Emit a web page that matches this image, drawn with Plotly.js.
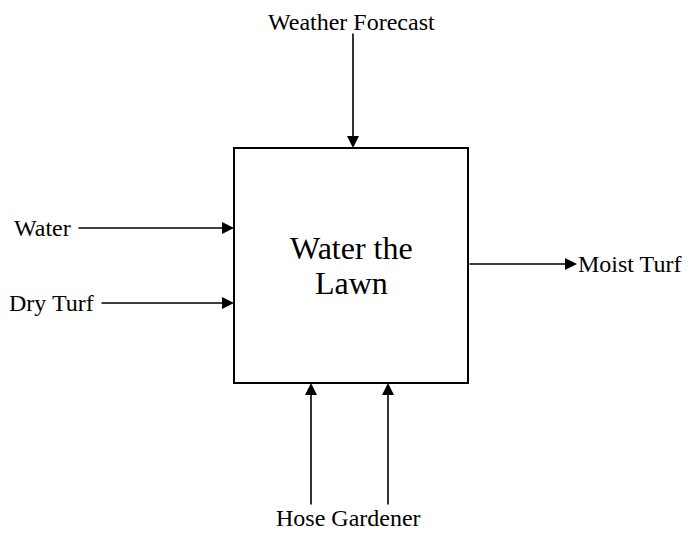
<!DOCTYPE html>
<html>
<head>
<meta charset="utf-8">
<script src="https://cdn.plot.ly/plotly-3.0.1.min.js"></script>
<style>html,body{margin:0;padding:0;background:#fff;}#chart{width:692px;height:534px;}</style>
</head>
<body>
<div id="chart"></div>
<script>
// Diagram content (IDEF0 activity box)
const activity = ["Water the", "Lawn"];
const inputs = ["Water", "Dry Turf"];
const controls = ["Weather Forecast"];
const outputs = ["Moist Turf"];
const mechanisms = ["Hose Gardener"];

// Geometry (pixel-space layout)
const box = {x0: 234, x1: 468, y0: 148, y1: 383};
const inputY = [228, 303];
const inputTailX = [77, 100];
const controlX = [353];
const controlTailY = 32;
const outputY = [264];
const outputHeadX = 577;
const mechX = [311, 388];
const mechTailY = 506;
const activityLineY = [248, 283];

const font = {family: "Liberation Serif, DejaVu Serif, serif", size: 24, color: "#000"};
const ann = [];
const arrowStyle = {showarrow: true, arrowhead: 2, arrowsize: 1.5, arrowwidth: 1.6, arrowcolor: "#000", standoff: 0, startstandoff: 0, axref: "x", ayref: "y", xref: "x", yref: "y", text: ""};

inputs.forEach((t, i) => {
  ann.push({...arrowStyle, x: box.x0, y: inputY[i], ax: inputTailX[i], ay: inputY[i]});
  ann.push({x: inputTailX[i] - 5, y: inputY[i], text: t, showarrow: false, xanchor: "right", yanchor: "middle", borderpad: 0, font});
});
controls.forEach((t, i) => {
  ann.push({...arrowStyle, x: controlX[i], y: box.y0, ax: controlX[i], ay: controlTailY});
  ann.push({x: controlX[i] - 2, y: controlTailY - 10, text: t, showarrow: false, xanchor: "center", yanchor: "middle", borderpad: 0, font});
});
outputs.forEach((t, i) => {
  ann.push({...arrowStyle, x: outputHeadX, y: outputY[i], ax: box.x1, ay: outputY[i]});
  ann.push({x: outputHeadX, y: outputY[i], text: t, showarrow: false, xanchor: "left", yanchor: "middle", borderpad: 0, font});
});
mechX.forEach((mx) => {
  ann.push({...arrowStyle, x: mx, y: box.y1, ax: mx, ay: mechTailY});
});
mechanisms.forEach((t) => {
  ann.push({x: (mechX[0] + mechX[mechX.length - 1]) / 2 - 1, y: mechTailY + 12, text: t, showarrow: false, xanchor: "center", yanchor: "middle", borderpad: 0, font});
});
activity.forEach((t, i) => {
  ann.push({x: (box.x0 + box.x1) / 2, y: activityLineY[i], text: t, showarrow: false, xanchor: "center", yanchor: "middle", borderpad: 0, font: {...font, size: 32}});
});

const layout = {
  width: 692, height: 534,
  margin: {l: 0, r: 0, t: 0, b: 0},
  paper_bgcolor: "#fff", plot_bgcolor: "#fff",
  showlegend: false,
  xaxis: {range: [0, 692], visible: false, fixedrange: true},
  yaxis: {range: [534, 0], visible: false, fixedrange: true},
  shapes: [{type: "rect", xref: "x", yref: "y", x0: box.x0, x1: box.x1, y0: box.y0, y1: box.y1, line: {color: "#000", width: 2}, fillcolor: "rgba(0,0,0,0)"}],
  annotations: ann
};
Plotly.newPlot("chart", [{x: [], y: [], type: "scatter", mode: "markers"}], layout, {staticPlot: true, displayModeBar: false});
</script>
</body>
</html>
